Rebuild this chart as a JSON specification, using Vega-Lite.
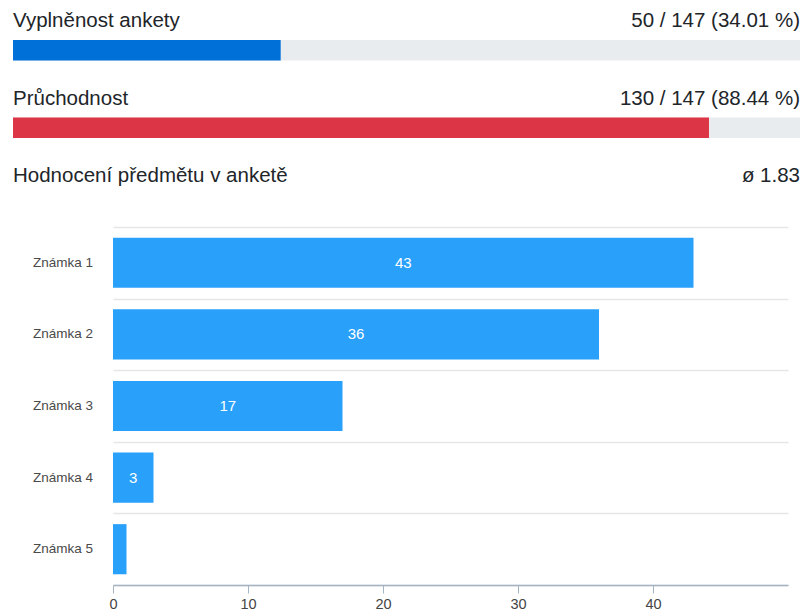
{
  "$schema": "https://vega.github.io/schema/vega-lite/v6.json",
  "padding": {"left": 13, "top": 0, "right": 3, "bottom": 0},
  "background": "white",
  "config": {"view": {"stroke": null}, "font": "Liberation Sans"},
  "spacing": 0,
  "vconcat": [
    {
      "width": 787,
      "height": {"step": 77.5},
      "data": {"values": [
        {"label": "Vyplněnost ankety", "value": 50, "total": 147, "info": "50 / 147 (34.01 %)"},
        {"label": "Průchodnost", "value": 130, "total": 147, "info": "130 / 147 (88.44 %)"}
      ]},
      "encoding": {
        "y": {"field": "label", "type": "nominal", "sort": null, "axis": null, "scale": {"paddingInner": 0, "paddingOuter": 0}}
      },
      "layer": [
        {
          "mark": {"type": "bar", "height": 20.5, "yOffset": 11.5, "color": "#e9ecef"},
          "encoding": {"x": {"field": "total", "type": "quantitative", "scale": {"domain": [0, 147], "nice": false}, "axis": null}}
        },
        {
          "mark": {"type": "bar", "height": 20.5, "yOffset": 11.5},
          "encoding": {
            "x": {"field": "value", "type": "quantitative"},
            "color": {"field": "label", "type": "nominal", "scale": {"domain": ["Vyplněnost ankety", "Průchodnost"], "range": ["#0070d9", "#dc3545"]}, "legend": null}
          }
        },
        {
          "mark": {"type": "text", "align": "left", "baseline": "alphabetic", "dy": -11.75, "fontSize": 20.5, "color": "#212529"},
          "encoding": {"x": {"datum": 0}, "text": {"field": "label"}}
        },
        {
          "mark": {"type": "text", "align": "right", "baseline": "alphabetic", "dy": -11.75, "fontSize": 20.5, "color": "#212529"},
          "encoding": {"x": {"datum": 147}, "text": {"field": "info"}}
        }
      ]
    },
    {
      "width": 787,
      "height": 72,
      "data": {"values": [
        {"title": "Hodnocení předmětu v anketě", "avg": "ø 1.83"}
      ]},
      "layer": [
        {
          "mark": {"type": "text", "align": "left", "baseline": "alphabetic", "dy": -9, "fontSize": 20.5, "color": "#212529"},
          "encoding": {"x": {"datum": 0, "type": "quantitative", "scale": {"domain": [0, 1], "nice": false}, "axis": null}, "text": {"field": "title"}}
        },
        {
          "mark": {"type": "text", "align": "right", "baseline": "alphabetic", "dy": -9, "fontSize": 20.5, "color": "#212529"},
          "encoding": {"x": {"datum": 1, "type": "quantitative"}, "text": {"field": "avg"}}
        }
      ]
    },
    {
      "spacing": 15,
      "data": {"values": [
        {"grade": "Známka 1", "count": 43},
        {"grade": "Známka 2", "count": 36},
        {"grade": "Známka 3", "count": 17},
        {"grade": "Známka 4", "count": 3},
        {"grade": "Známka 5", "count": 1}
      ]},
      "hconcat": [
        {
          "width": 80,
          "height": 358,
          "mark": {"type": "text", "align": "right", "baseline": "middle", "x": "width", "fontSize": 13.5, "color": "#4a4a4a"},
          "encoding": {
            "y": {"field": "grade", "type": "nominal", "sort": null, "axis": null, "scale": {"paddingInner": 0, "paddingOuter": 0}},
            "text": {"field": "grade"}
          }
        },
        {
          "width": 675,
          "height": 358,
          "encoding": {
            "y": {
              "field": "grade", "type": "nominal", "sort": null,
              "scale": {"paddingInner": 0, "paddingOuter": 0},
              "axis": {"title": null, "labels": false, "domain": false, "ticks": false, "tickBand": "extent", "grid": true, "gridColor": "#e6e6e6", "gridWidth": 1.5, "minExtent": 0}
            }
          },
          "layer": [
            {
              "mark": {"type": "bar", "color": "#29a0fa", "height": {"band": 0.7}},
              "encoding": {
                "x": {"field": "count", "type": "quantitative", "scale": {"domain": [0, 50], "nice": false},
                  "axis": {"title": null, "grid": false, "values": [0, 10, 20, 30, 40], "labelFlush": false, "domainColor": "#a5b4c2", "tickColor": "#a5b4c2", "tickSize": 8, "domainWidth": 1.5, "labelFontSize": 14.5, "labelColor": "#444444", "labelPadding": 4}}
              }
            },
            {
              "transform": [{"filter": "datum.count > 1"}],
              "mark": {"type": "text", "color": "white", "fontSize": 15, "baseline": "middle"},
              "encoding": {
                "x": {"field": "count", "type": "quantitative", "scale": {"domain": [0, 100], "nice": false}, "axis": null},
                "text": {"field": "count", "type": "quantitative"}
              }
            }
          ],
          "resolve": {"scale": {"x": "independent"}}
        }
      ]
    }
  ]
}
